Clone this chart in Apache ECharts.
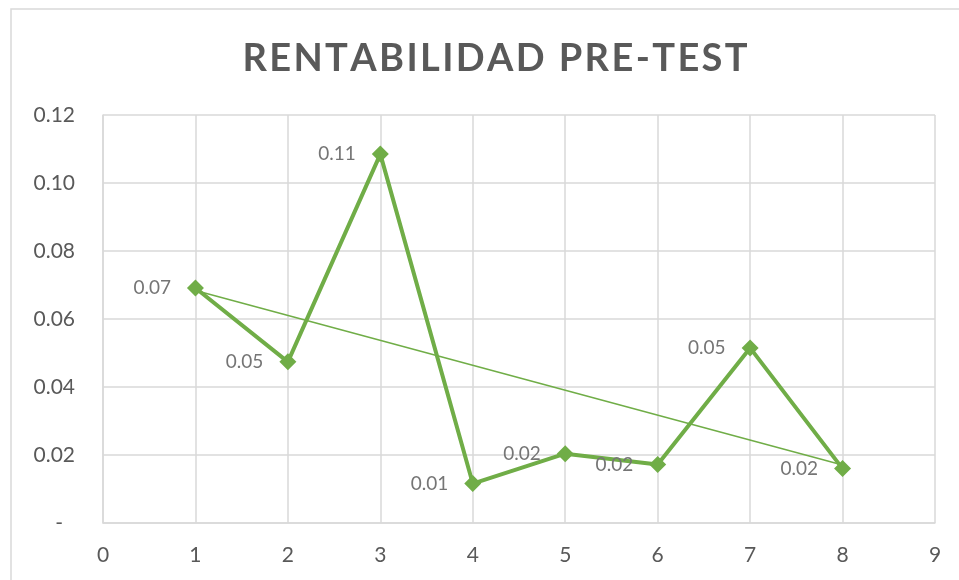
<!DOCTYPE html>
<html>
<head>
<meta charset="utf-8">
<script src="https://cdn.jsdelivr.net/npm/echarts@6/dist/echarts.min.js"></script>
<style>
  html, body { margin: 0; padding: 0; background: #fff; }
  #chart { width: 959px; height: 580px; }
</style>
</head>
<body>
<div id="chart"></div>
<script>
var periodos = [1, 2, 3, 4, 5, 6, 7, 8];
var rentabilidad = [0.0691, 0.0474, 0.1085, 0.0116, 0.0204, 0.0172, 0.0515, 0.0160];
var tituloTexto = 'RENTABILIDAD PRE-TEST';

var myChart = echarts.init(document.getElementById('chart'));

// linea de tendencia lineal (minimos cuadrados)
var n = periodos.length;
var mx = 0, my = 0;
for (var i = 0; i < n; i++) {
    mx += periodos[i];
    my += rentabilidad[i];
}
mx = mx / n;
my = my / n;
var sxy = 0, sxx = 0;
for (i = 0; i < n; i++) {
    sxy += (periodos[i] - mx) * (rentabilidad[i] - my);
    sxx += (periodos[i] - mx) * (periodos[i] - mx);
}
var pendiente = sxy / sxx;
var corte = my - pendiente * mx;
var x0 = periodos[0], x1 = periodos[n - 1];
var tendencia = [[x0, corte + pendiente * x0], [x1, corte + pendiente * x1]];

var puntos = [];
for (i = 0; i < n; i++) {
    puntos.push([periodos[i], rentabilidad[i]]);
}

// espaciado entre letras del titulo (hair space)
var tituloEspaciado = tituloTexto.split('').join('\u200A');

var verde = '#70ad47';
var gris = '#d9d9d9';

var option = {
    animation: false,
    textStyle: { fontFamily: 'Lato' },
    graphic: [
        {
            type: 'rect',
            shape: { x: 11, y: 9, width: 1000, height: 600 },
            style: { fill: 'none', stroke: gris, lineWidth: 1.5 },
            silent: true
        }
    ],
    title: {
        text: tituloEspaciado,
        left: 490,
        textAlign: 'center',
        top: 35,
        textStyle: {
            fontFamily: 'Lato',
            fontWeight: 'bold',
            fontSize: 38,
            color: '#595959'
        }
    },
    grid: {
        left: 103,
        right: 24,
        top: 115,
        bottom: 57
    },
    xAxis: {
        type: 'value',
        min: 0,
        max: 9,
        interval: 1,
        axisLine: { show: true, lineStyle: { color: gris, width: 1.5 } },
        axisTick: { show: false },
        splitLine: { show: true, lineStyle: { color: gris, width: 1.5 } },
        axisLabel: {
            color: '#595959',
            fontSize: 21,
            margin: 22
        }
    },
    yAxis: {
        type: 'value',
        min: 0,
        max: 0.12,
        interval: 0.02,
        axisLine: { show: true, lineStyle: { color: gris, width: 1.5 } },
        axisTick: { show: false },
        splitLine: { show: true, lineStyle: { color: gris, width: 1.5 } },
        axisLabel: {
            color: '#595959',
            fontSize: 21,
            margin: 28,
            formatter: function (v) {
                if (v === 0) {
                    return '{d|-}';
                }
                return v.toFixed(2);
            },
            rich: {
                d: { fontSize: 21, color: '#595959', padding: [0, 12, 0, 0] }
            }
        }
    },
    series: [
        {
            name: 'Tendencia',
            type: 'line',
            data: tendencia,
            symbol: 'none',
            z: 1,
            lineStyle: { color: verde, width: 1.5 },
            silent: true
        },
        {
            name: 'Rentabilidad',
            type: 'line',
            data: puntos,
            symbol: 'diamond',
            symbolSize: 17,
            z: 2,
            itemStyle: { color: verde },
            lineStyle: { color: verde, width: 4 },
            label: {
                show: true,
                position: 'left',
                distance: 16,
                color: '#757575',
                fontSize: 19,
                formatter: function (p) {
                    return p.value[1].toFixed(2);
                }
            }
        }
    ]
};
myChart.setOption(option);

window.onresize = function () {
    myChart.resize();
};
</script>
</body>
</html>
